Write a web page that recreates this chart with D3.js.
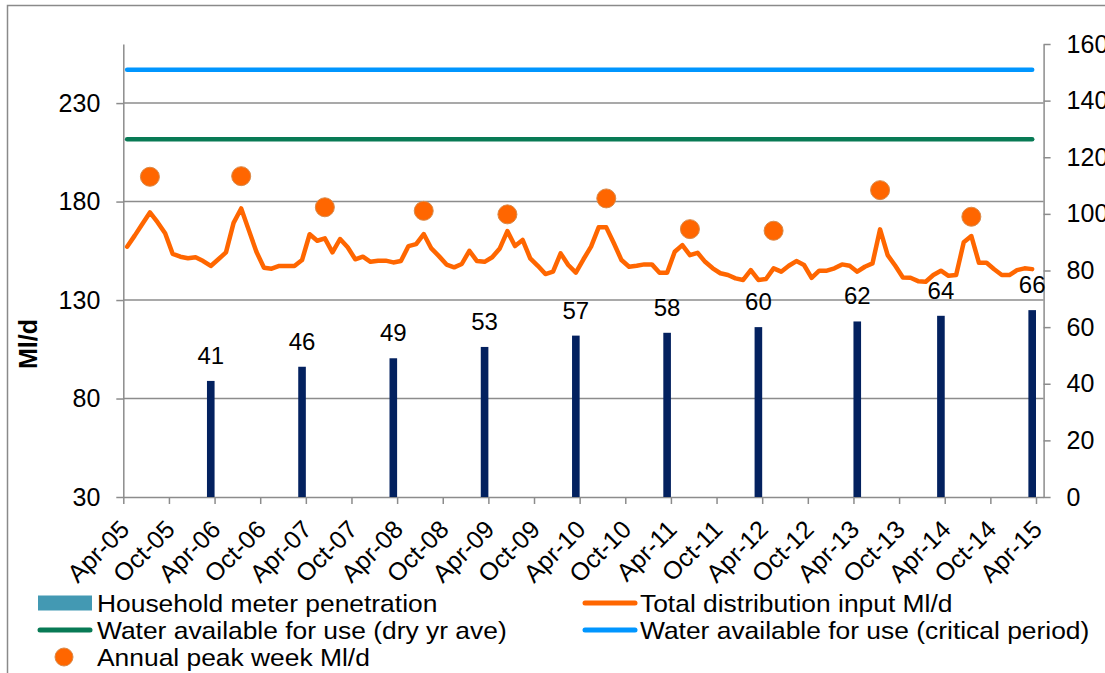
<!DOCTYPE html>
<html>
<head>
<meta charset="utf-8">
<script src="https://cdn.jsdelivr.net/npm/d3@7"></script>
<style>
  html, body { margin: 0; padding: 0; background: #fff; }
  svg { display: block; font-family: "Liberation Sans", Arial, sans-serif; }
</style>
</head>
<body>
<svg id="chart" width="1105" height="673"></svg>
<script>
// ---- data -------------------------------------------------------------
// Month slots on the x axis: Apr-05 (index 0) to Apr-15 (index 120)
const firstMonth = new Date(2005, 3, 1);
const monthCount = 121;

// Total distribution input, Ml/d, monthly from Apr-05 to Mar-15
const distributionInput = [
  157.1, 162.7, 168.6, 174.5, 169.5, 163.9, 153.4, 152.0, 151.2, 151.7, 149.8, 147.3,
  150.7, 154.2, 169.2, 176.5, 165.5, 154.5, 146.4, 145.9, 147.3, 147.3, 147.3, 150.3,
  163.4, 160.1, 161.3, 154.2, 161.0, 156.8, 150.7, 152.0, 149.4, 150.0, 150.0, 149.1,
  149.8, 157.4, 158.4, 163.5, 156.2, 152.3, 148.0, 146.6, 148.3, 155.0, 149.8, 149.4,
  151.7, 156.2, 165.0, 157.4, 160.5, 151.2, 147.4, 143.2, 144.4, 153.7, 147.8, 143.9,
  150.7, 157.1, 166.9, 166.9, 158.8, 150.3, 146.9, 147.4, 148.1, 148.1, 143.9, 143.9,
  154.5, 157.9, 152.8, 154.0, 149.4, 146.1, 143.6, 142.7, 141.0, 140.2, 145.2, 140.2,
  140.7, 146.1, 144.4, 147.4, 149.8, 147.8, 141.3, 144.9, 144.9, 146.1, 148.1, 147.4,
  144.4, 146.9, 148.6, 165.9, 152.8, 147.4, 141.5, 141.3, 139.6, 139.3, 142.7, 144.9,
  142.3, 142.7, 159.3, 162.5, 148.9, 148.9, 145.6, 142.7, 142.7, 145.2, 146.1, 145.7
];

// Annual peak week, Ml/d
const peakMonths = ["2005-07", "2006-07", "2007-06", "2008-07", "2009-06",
                    "2010-07", "2011-06", "2012-05", "2013-07", "2014-07"];
const peakWeek = [192.6, 192.9, 177.1, 175.3, 173.5, 181.6, 166.0, 165.2, 185.8, 172.3];

// Household meter penetration, %
const meterMonths = ["2006-03", "2007-03", "2008-03", "2009-03", "2010-03",
                     "2011-03", "2012-03", "2013-04", "2014-03", "2015-03"];
const meterPenetration = [41, 46, 49, 53, 57, 58, 60, 62, 64, 66];

// Water available for use, Ml/d
const dryYearAverage = 211.6;
const criticalPeriod = 246.9;

// Axis ticks
const leftTicks = [30, 80, 130, 180, 230];
const rightTicks = [0, 20, 40, 60, 80, 100, 120, 140, 160];
const xTickLabels = ["Apr-05", "Oct-05", "Apr-06", "Oct-06", "Apr-07", "Oct-07", "Apr-08",
  "Oct-08", "Apr-09", "Oct-09", "Apr-10", "Oct-10", "Apr-11", "Oct-11", "Apr-12",
  "Oct-12", "Apr-13", "Oct-13", "Apr-14", "Oct-14", "Apr-15"];

// ---- layout -----------------------------------------------------------
const plot = { left: 123.3, right: 1043.6, top: 44, bottom: 497 };
const axisGrey = "#8c8c8c";
const colors = {
  bars: "#03215f",
  meterKey: "#4399b3",
  input: "#ff6600",
  dry: "#087a55",
  critical: "#0096ff",
  peakEdge: "#d98a4a"
};

const svg = d3.select("#chart");

// outer chart frame
svg.append("rect")
  .attr("x", 7.5).attr("y", 5.5)
  .attr("width", 1200).attr("height", 800)
  .attr("fill", "none").attr("stroke", "#8a8a8a").attr("stroke-width", 1.5);

const monthIndex = key => {
  const [y, m] = key.split("-").map(Number);
  return d3.timeMonth.count(firstMonth, new Date(y, m - 1, 1));
};

const x = d3.scaleLinear().domain([0, monthCount]).range([plot.left, plot.right]);
const slot = x(1) - x(0);
const yL = d3.scaleLinear().domain([30, 260]).range([plot.bottom, plot.top]);
const yR = d3.scaleLinear().domain([0, 160]).range([plot.bottom, plot.top]);

// gridlines
svg.append("g").selectAll("line")
  .data(leftTicks.filter(t => t !== 30))
  .join("line")
  .attr("x1", plot.left).attr("x2", plot.right)
  .attr("y1", d => yL(d)).attr("y2", d => yL(d))
  .attr("stroke", axisGrey).attr("stroke-width", 1.5);

function styleAxis(g) {
  g.select(".domain").attr("stroke", axisGrey).attr("stroke-width", 1.5);
  g.selectAll(".tick line").attr("stroke", axisGrey).attr("stroke-width", 1.5);
  g.selectAll(".tick text").attr("fill", "#000");
}

// left axis
svg.append("g")
  .attr("transform", `translate(${plot.left},0)`)
  .call(d3.axisLeft(yL).tickValues(leftTicks).tickSize(7).tickPadding(16).tickSizeOuter(0))
  .call(styleAxis)
  .call(g => g.selectAll(".tick text").attr("font-size", 25));

// right axis
svg.append("g")
  .attr("transform", `translate(${plot.right},0)`)
  .call(d3.axisRight(yR).tickValues(rightTicks).tickSize(7).tickPadding(16).tickSizeOuter(0))
  .call(styleAxis)
  .call(g => g.selectAll(".tick text").attr("font-size", 25));

// bottom axis, a tick every six months
svg.append("g")
  .attr("transform", `translate(0,${plot.bottom})`)
  .call(d3.axisBottom(x)
    .tickValues(d3.range(0, monthCount, 6))
    .tickFormat(i => xTickLabels[i / 6])
    .tickSize(7).tickSizeOuter(0))
  .call(styleAxis)
  .call(g => g.selectAll(".tick text")
    .attr("font-size", 25)
    .attr("text-anchor", "end")
    .attr("dy", 0)
    .attr("y", 0)
    .attr("transform", "translate(7,34) rotate(-45)"));

// y axis title
svg.append("text")
  .attr("transform", "translate(37,344) rotate(-90)")
  .attr("text-anchor", "middle")
  .attr("font-size", 25).attr("font-weight", "bold")
  .text("Ml/d");

// meter penetration bars (right axis)
const bars = meterMonths.map((m, i) => ({ idx: monthIndex(m), v: meterPenetration[i] }));
svg.append("g").selectAll("rect")
  .data(bars)
  .join("rect")
  .attr("x", d => x(d.idx))
  .attr("width", slot)
  .attr("y", d => yR(d.v))
  .attr("height", d => yR(0) - yR(d.v))
  .attr("fill", colors.bars);

svg.append("g").selectAll("text")
  .data(bars)
  .join("text")
  .attr("x", d => x(d.idx + 0.5))
  .attr("y", d => yR(d.v) - 17)
  .attr("text-anchor", "middle")
  .attr("font-size", 24)
  .text(d => d.v);

// water available lines
const lineMonths = d3.range(distributionInput.length);
const flatLine = v => d3.line().x(i => x(i + 0.5)).y(() => yL(v));
[[criticalPeriod, colors.critical], [dryYearAverage, colors.dry]].forEach(([v, c]) => {
  svg.append("path")
    .datum(lineMonths)
    .attr("d", flatLine(v))
    .attr("fill", "none").attr("stroke", c)
    .attr("stroke-width", 4.5).attr("stroke-linecap", "round");
});

// total distribution input
svg.append("path")
  .datum(distributionInput)
  .attr("d", d3.line().x((d, i) => x(i + 0.5)).y(d => yL(d)))
  .attr("fill", "none").attr("stroke", colors.input)
  .attr("stroke-width", 4.5)
  .attr("stroke-linejoin", "round").attr("stroke-linecap", "round");

// annual peak week markers
svg.append("g").selectAll("circle")
  .data(peakMonths.map((m, i) => ({ idx: monthIndex(m), v: peakWeek[i] })))
  .join("circle")
  .attr("cx", d => x(d.idx + 0.5))
  .attr("cy", d => yL(d.v))
  .attr("r", 9.5)
  .attr("fill", colors.input)
  .attr("stroke", colors.peakEdge).attr("stroke-width", 1);

// legend
const legend = svg.append("g").attr("font-size", 24);
const rows = [603, 630, 657];
const cols = [{ key: 38, text: 97 }, { key: 583, text: 640 }];
const items = [
  { label: "Household meter penetration", type: "rect", color: colors.meterKey, col: 0, row: 0 },
  { label: "Total distribution input Ml/d", type: "line", color: colors.input, col: 1, row: 0 },
  { label: "Water available for use (dry yr ave)", type: "line", color: colors.dry, col: 0, row: 1 },
  { label: "Water available for use (critical period)", type: "line", color: colors.critical, col: 1, row: 1 },
  { label: "Annual peak week Ml/d", type: "dot", color: colors.input, col: 0, row: 2 }
];
items.forEach(it => {
  const cx = cols[it.col].key, cy = rows[it.row];
  if (it.type === "rect") {
    legend.append("rect").attr("x", cx).attr("y", cy - 7.5).attr("width", 54).attr("height", 15)
      .attr("fill", it.color);
  } else if (it.type === "line") {
    legend.append("line").attr("x1", cx + 2).attr("x2", cx + 52).attr("y1", cy).attr("y2", cy)
      .attr("stroke", it.color).attr("stroke-width", 5).attr("stroke-linecap", "round");
  } else {
    legend.append("circle").attr("cx", cx + 26).attr("cy", cy).attr("r", 9)
      .attr("fill", it.color).attr("stroke", colors.peakEdge).attr("stroke-width", 1);
  }
  // legend labels run slightly wide
  legend.append("text")
    .attr("transform", `translate(${cols[it.col].text},${cy + 8.5}) scale(1.1,1)`)
    .text(it.label);
});
</script>
</body>
</html>
